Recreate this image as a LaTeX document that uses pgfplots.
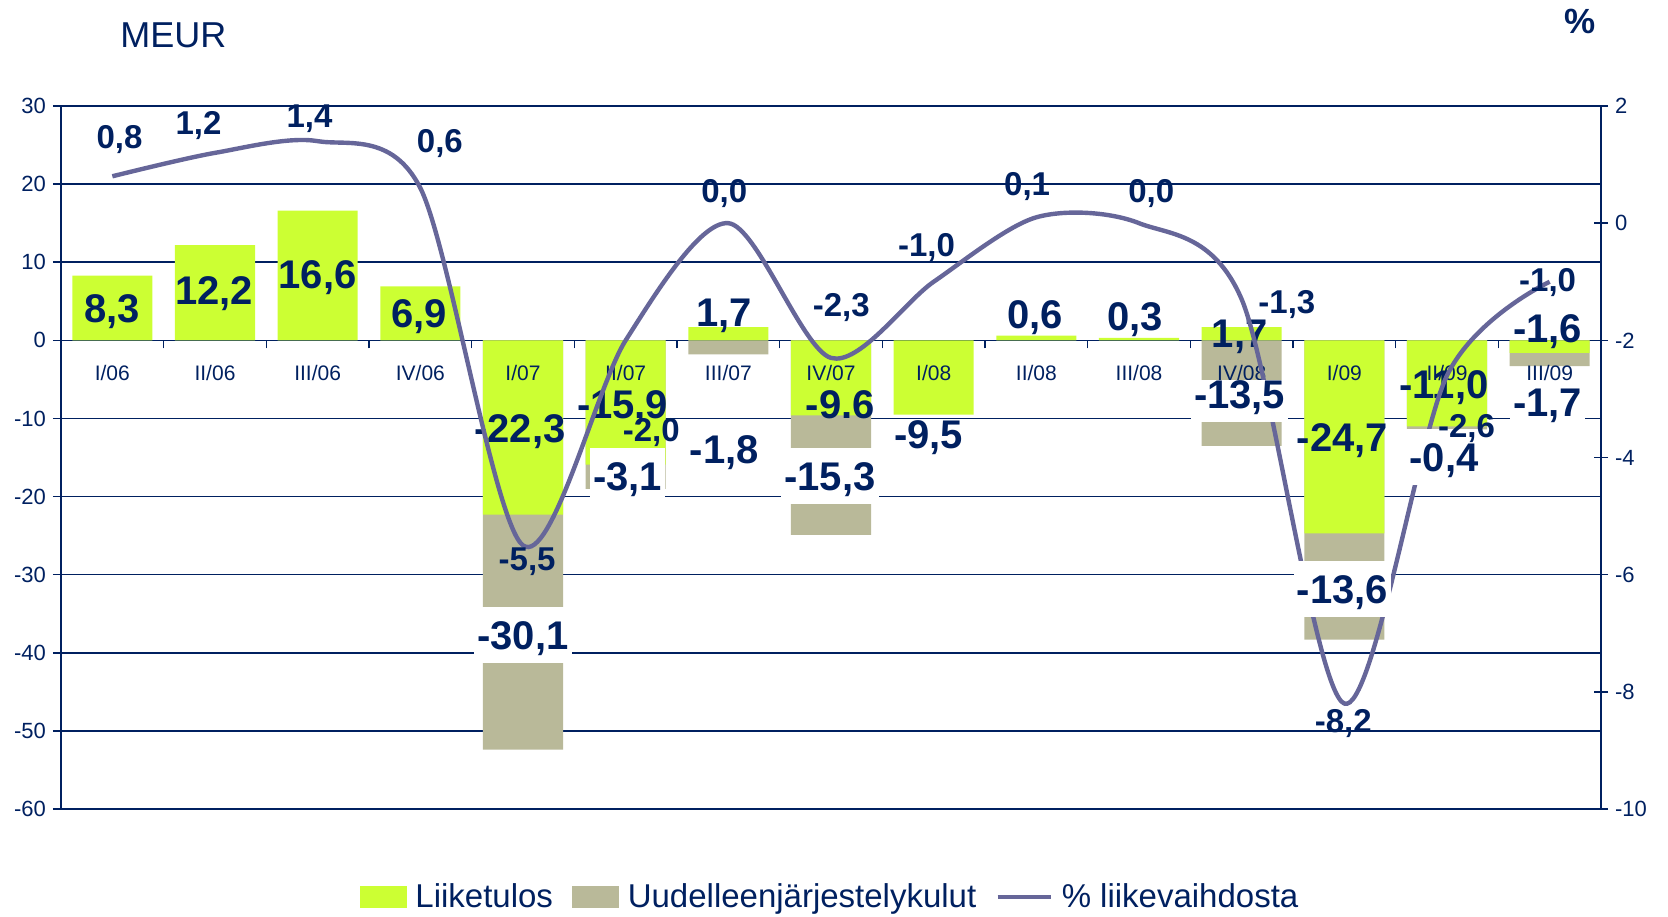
\documentclass[border=0pt]{standalone}
\usepackage{fontspec}
\setmainfont{Liberation Sans}
\usepackage{pgfplots}
\pgfplotsset{compat=1.18}
\definecolor{navy}{RGB}{0,32,96}
\definecolor{lgreen}{RGB}{204,255,51}
\definecolor{lgrey}{RGB}{185,185,153}
\definecolor{lline}{RGB}{102,102,153}
\tikzset{
 barlab/.style={font=\fontsize{20}{24}\selectfont\bfseries, text=navy, inner xsep=1.5pt, inner ysep=3.85pt, text height=17.3pt, text depth=3pt, anchor=center},
 boxlab/.style={barlab, fill=white},
 lowbox/.style={boxlab, text depth=4.85pt, inner ysep=2pt, anchor=base},
 linelab/.style={font=\fontsize{16.5}{20}\selectfont\bfseries, text=navy, inner sep=1pt, text height=13.8pt, text depth=2pt, anchor=center},
}
\begin{document}
\begin{tikzpicture}
\begin{axis}[
  at={(0pt,0pt)}, anchor=south west,
  scale only axis, width=770pt, height=351.5pt,
  xmin=-0.5, xmax=14.5, ymin=-60, ymax=30,
  axis x line*=middle, axis y line*=left,
  hide obscured x ticks=false, hide obscured y ticks=false,
  axis line style={navy, line width=0.75pt},
  ytick={-60,-50,...,30},
  ymajorgrids, grid style={navy, line width=0.75pt},
  xtick={0.5,1.5,...,13.5}, xticklabels={},
  tick align=outside, major tick length=4pt,
  tick style={navy, line width=0.75pt},
  ticklabel style={font=\fontsize{11}{13}\selectfont, text=navy},
  /pgf/number format/assume math mode=true,
  clip=false,
]
\addplot[ybar, bar width=0.78, bar shift=0pt, fill=lgrey, draw=none] coordinates {(4,-52.4) (5,-19.0) (6,-1.8) (7,-24.9) (11,-13.5) (12,-38.3) (13,-11.4) (14,-3.3)};
\addplot[ybar, bar width=0.78, bar shift=0pt, fill=lgreen, draw=none] coordinates {(0,8.3) (1,12.2) (2,16.6) (3,6.9) (4,-22.3) (5,-15.9) (6,1.7) (7,-9.6) (8,-9.5) (9,0.6) (10,0.3) (11,1.7) (12,-24.7) (13,-11.0) (14,-1.6)};
\node[barlab] at (axis cs:0,4.1) {8,3};
\node[barlab] at (axis cs:0.99,6.4) {12,2};
\node[barlab] at (axis cs:2,8.5) {16,6};
\node[barlab] at (axis cs:2.99,3.5) {6,9};
\node[barlab] at (axis cs:3.97,-11.2) {-22,3};
\node[barlab] at (axis cs:4.97,-8.2) {-15,9};
\node[barlab] at (axis cs:5.96,3.6) {1,7};
\node[barlab] at (axis cs:7.09,-8.2) {-9.6};
\node[barlab] at (axis cs:7.95,-12.0) {-9,5};
\node[barlab] at (axis cs:8.99,3.4) {0,6};
\node[barlab] at (axis cs:9.96,3.1) {0,3};
\node[barlab] at (axis cs:10.98,0.9) {1,7};
\node[barlab] at (axis cs:11.98,-12.4) {-24,7};
\node[barlab] at (axis cs:12.97,-5.6) {-11,0};
\node[barlab] at (axis cs:13.98,1.6) {-1,6};
\end{axis}
\begin{axis}[
  at={(0pt,0pt)}, anchor=south west,
  scale only axis, width=770pt, height=351.5pt,
  xmin=-0.5, xmax=14.5, ymin=-10, ymax=2,
  axis x line*=middle, axis y line*=right,
  hide obscured x ticks=false, hide obscured y ticks=false,
  axis line style={navy, line width=0.75pt},
  x axis line style={draw=none},
  xtick={0,1,...,14},
  xticklabels={I/06,II/06,III/06,IV/06,I/07,II/07,III/07,IV/07,I/08,II/08,III/08,IV/08,I/09,II/09,III/09},
  xtick style={draw=none},
  xticklabel style={anchor=center, yshift=-71.3pt, font=\fontsize{10.5}{12}\selectfont, text=navy},
  ytick={-10,-8,...,2},
  tick align=center, major tick length=7pt,
  ytick style={navy, line width=0.75pt},
  yticklabel style={anchor=west, font=\fontsize{11}{13}\selectfont, text=navy},
  /pgf/number format/assume math mode=true,
  clip=false,
  legend style={at={(0.5,-0.1252)}, anchor=center, draw=none, fill=none, legend columns=3,
    font=\fontsize{16.5}{20}\selectfont, text=navy,
    /tikz/every odd column/.append style={column sep=2.5pt},
    /tikz/every even column/.append style={column sep=7.5pt}},
  legend cell align=left,
]
\addlegendimage{legend image code/.code={\fill[lgreen] (0pt,-5.25pt) rectangle (23pt,5.25pt);}}
\addlegendentry{Liiketulos}
\addlegendimage{legend image code/.code={\fill[lgrey] (0pt,-5.25pt) rectangle (23pt,5.25pt);}}
\addlegendentry{Uudelleenjärjestelykulut}
\addplot[lline, line width=2.2pt, smooth, tension=0.5, legend image code/.code={\draw[lline, line width=2.2pt] (0pt,0pt) -- (26.5pt,0pt);}] coordinates {(0,0.8) (1,1.2) (2,1.4) (3,0.6) (4,-5.5) (5,-2.0) (6,0.0) (7,-2.3) (8,-1.0) (9,0.1) (10,0.0) (11,-1.3) (12,-8.2) (13,-2.6) (14,-1.0)};
\addlegendentry{\% liikevaihdosta}
\node[boxlab] at (axis cs:4,-7.027) {-30,1};
\node[boxlab] at (axis cs:5.02,-4.32) {-3,1};
\node[boxlab] at (axis cs:5.96,-3.853) {-1,8};
\node[boxlab] at (axis cs:6.99,-4.32) {-15,3};
\node[lowbox, text height=12.15pt] at (axis cs:10.98,-3.161) {-13,5};
\node[boxlab] at (axis cs:11.98,-6.253) {-13,6};
\node[boxlab] at (axis cs:12.97,-3.987) {-0,4};
\node[lowbox, text height=14.5pt] at (axis cs:13.98,-3.297) {-1,7};
\node[linelab] at (axis cs:0.07,1.48) {0,8};
\node[linelab] at (axis cs:0.84,1.707) {1,2};
\node[linelab] at (axis cs:1.92,1.84) {1,4};
\node[linelab] at (axis cs:3.19,1.4) {0,6};
\node[linelab] at (axis cs:4.04,-5.72) {-5,5};
\node[linelab] at (axis cs:5.25,-3.52) {-2,0};
\node[linelab] at (axis cs:5.96,0.56) {0,0};
\node[linelab] at (axis cs:7.10,-1.4) {-2,3};
\node[linelab] at (axis cs:7.93,-0.373) {-1,0};
\node[linelab] at (axis cs:8.91,0.68) {0,1};
\node[linelab] at (axis cs:10.12,0.56) {0,0};
\node[linelab] at (axis cs:11.44,-1.333) {-1,3};
\node[linelab] at (axis cs:11.99,-8.493) {-8,2};
\node[linelab] at (axis cs:13.19,-3.453) {-2,6};
\node[linelab] at (axis cs:13.98,-0.96) {-1,0};
\end{axis}
\node[font=\fontsize{18}{22}\selectfont, text=navy, anchor=west, inner sep=0pt] at (29.5pt,387pt) {MEUR};
\node[font=\fontsize{17.5}{21}\selectfont\bfseries, text=navy, inner sep=0pt] at (759.5pt,394pt) {\%};
\pgfresetboundingbox
\path[use as bounding box] (-30.5pt,-53.5pt) rectangle (803.5pt,404.5pt);
\end{tikzpicture}
\end{document}
